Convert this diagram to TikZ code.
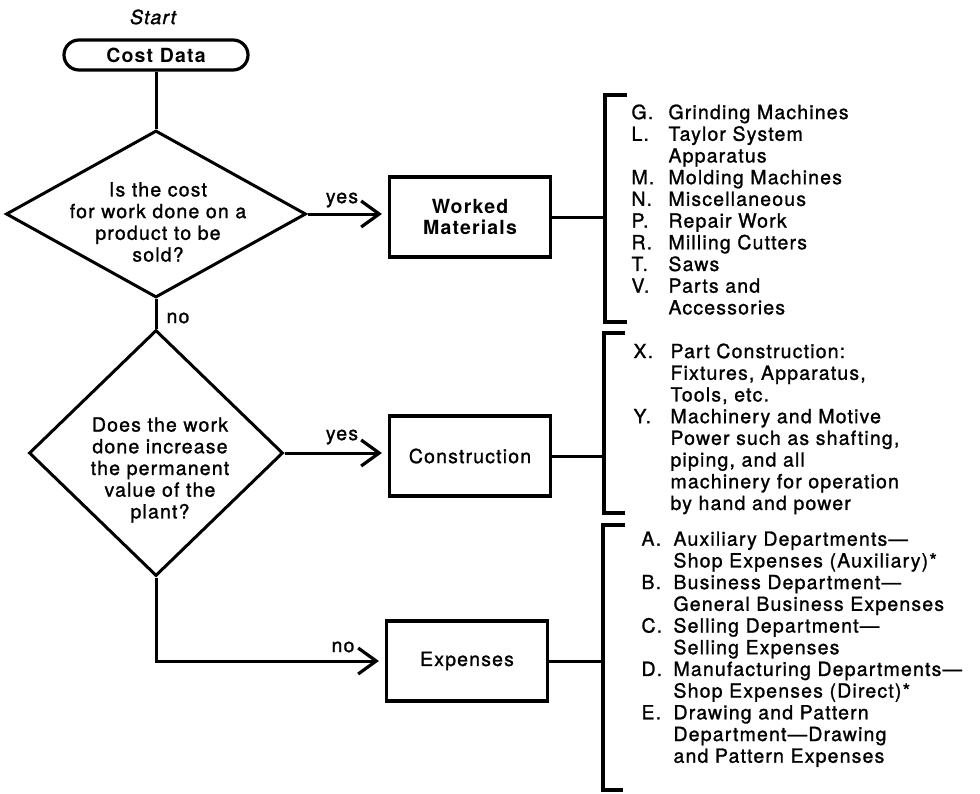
\documentclass[tikz,border=0pt]{standalone}
\usepackage{fontspec}
\setmainfont{TeX Gyre Heros}[LetterSpace=6,UprightFeatures={FakeBold=1.2},ItalicFeatures={FakeBold=1.2}]
\usetikzlibrary{arrows.meta,shapes.geometric}
\newcommand{\itm}[1]{\makebox[37pt][l]{#1}}
\newcommand{\ind}{\hspace*{37pt}}
\newcommand{\itmb}[1]{\makebox[32pt][l]{#1}}
\newcommand{\indb}{\hspace*{32pt}}
\begin{document}
\begin{tikzpicture}[x=1pt,y=-1pt, line width=3pt,
  every node/.style={font=\fontsize{19.5}{21.7}\selectfont},
  box/.style={draw, rectangle, minimum width=161pt, minimum height=80pt, inner sep=0pt, align=center, line width=3.2pt},
  term/.style={draw, rectangle, rounded corners=15pt, minimum width=184pt, minimum height=30pt, inner sep=0pt, line width=3.2pt, font=\bfseries\fontsize{19.5}{21.7}\selectfont},
  dec/.style={draw, diamond, inner sep=0pt, line width=3pt},
  qtext/.style={align=center, inner sep=0pt},
  lbl/.style={inner sep=0pt},
  list/.style={align=left, inner sep=0pt, anchor=north west},
  flow/.style={-{Straight Barb[length=18pt,width=26pt,line width=3.2pt]}, shorten >=6pt},
  brk/.style={line width=3.2pt}]
\path[use as bounding box] (0,0) rectangle (980,793);
% start
\node[lbl, font=\itshape\fontsize{19.5}{21.7}\selectfont] (start) at (153,17) {Start};
\node[term] (cost) at (156,55) {Cost Data};
% decisions
\node[dec, minimum width=300pt, minimum height=167pt] (d1) at (156,214) {};
\node[qtext] (q1) at (158,222) {Is the cost\\for work done on a\\product to be\\sold?};
\node[dec, minimum width=254pt, minimum height=246pt] (d2) at (156,453) {};
\node[qtext] (q2) at (160,470) {Does the work\\done increase\\the permanent\\value of the\\plant?};
% boxes
\node[box, font=\bfseries\fontsize{19.5}{21.7}\selectfont] (wm) at (470,217) {Worked\\Materials};
\node[box] (con) at (470,456) {Construction};
\node[box] (exp) at (467,661) {Expenses};
% labels
\node[lbl] (yes1) at (342,200) {yes};
\node[lbl] (no1) at (178,318) {no};
\node[lbl] (yes2) at (342,437) {yes};
\node[lbl] (no2) at (343,647) {no};
% connectors
\draw (cost.south) -- (d1.north);
\draw (d1.south) -- (d2.north);
\draw[flow] (d1.east) -- (d1.east -| wm.west);
\draw[flow] (d2.east) -- (d2.east -| con.west);
\draw[flow] (d2.south) |- (exp.west);
% brackets
\coordinate (b1t) at (605,95);
\coordinate (b1b) at (605,322);
\coordinate (b2t) at (604,333);
\coordinate (b2b) at (604,513);
\coordinate (b3t) at (603,525);
\coordinate (b3b) at (603,790);
\draw[brk] (627,95) -- (b1t) -- (b1b) -- (627,322);
\draw[brk] (625,333) -- (b2t) -- (b2b) -- (625,513);
\draw[brk] (625,525) -- (b3t) -- (b3b) -- (623,790);
\draw (wm.east) -- (wm.east -| b1t);
\draw (con.east) -- (con.east -| b2t);
\draw (exp.east) -- (exp.east -| b3t);
% lists
\node[list] (l1) at (630,103) {\itm{G.}Grinding Machines\\
\itm{L.}Taylor System\\
\ind Apparatus\\
\itm{M.}Molding Machines\\
\itm{N.}Miscellaneous\\
\itm{P.}Repair Work\\
\itm{R.}Milling Cutters\\
\itm{T.}Saws\\
\itm{V.}Parts and\\
\ind Accessories};
\node[list] (l2) at (632,342) {\itm{X.}Part Construction:\\
\ind Fixtures, Apparatus,\\
\ind Tools, etc.\\
\itm{Y.}Machinery and Motive\\
\ind Power such as shafting,\\
\ind piping, and all\\
\ind machinery for operation\\
\ind by hand and power};
\node[list] (l3) at (640,530) {\itmb{A.}Auxiliary Departments---\\
\indb Shop Expenses (Auxiliary)*\\
\itmb{B.}Business Department---\\
\indb General Business Expenses\\
\itmb{C.}Selling Department---\\
\indb Selling Expenses\\
\itmb{D.}Manufacturing Departments---\\
\indb Shop Expenses (Direct)*\\
\itmb{E.}Drawing and Pattern\\
\indb Department---Drawing\\
\indb and Pattern Expenses};
\end{tikzpicture}
\end{document}
